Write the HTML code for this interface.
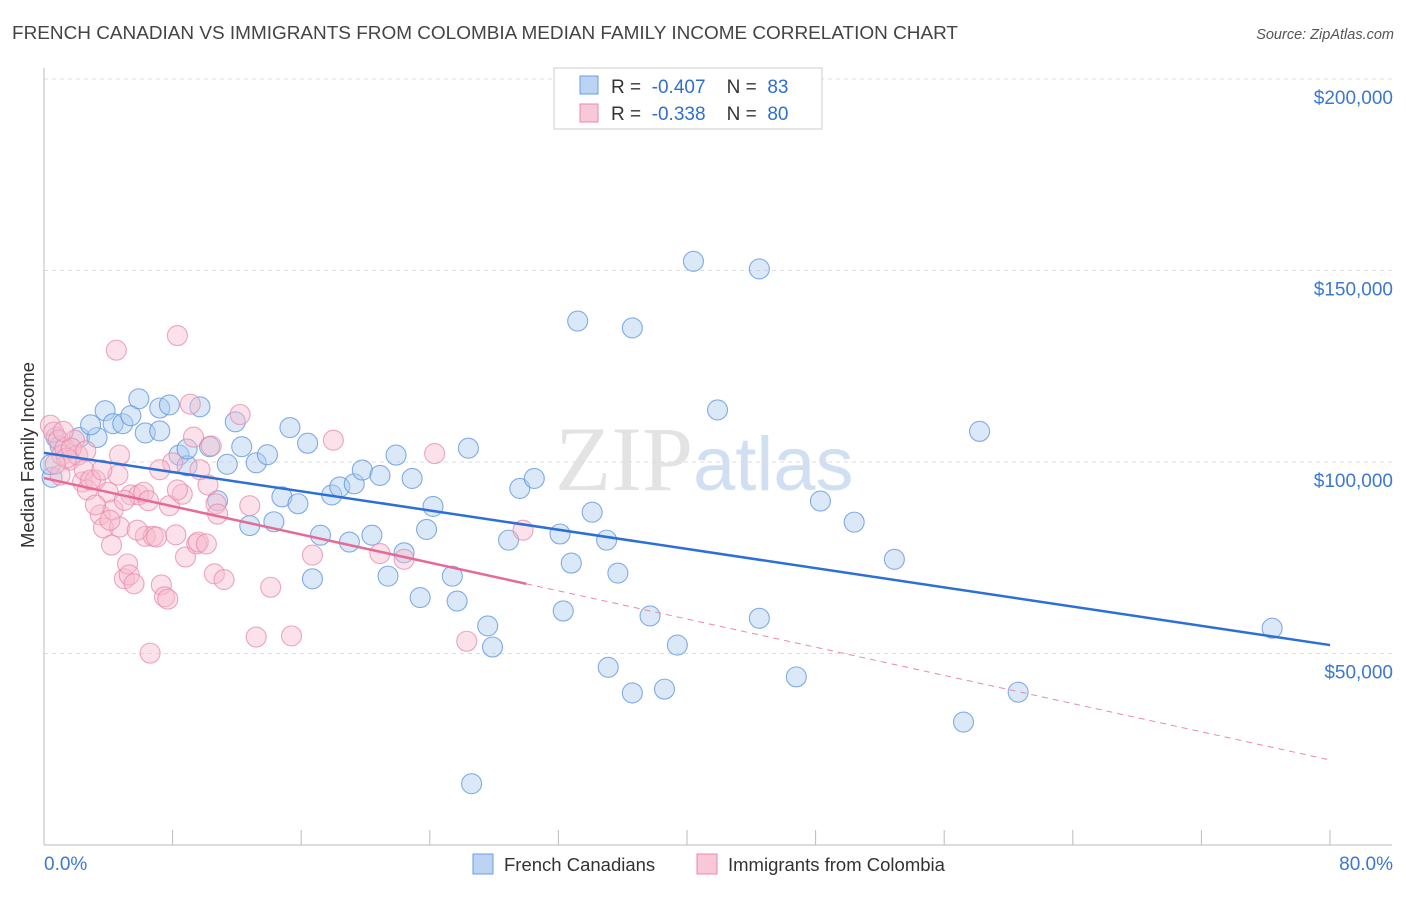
<!DOCTYPE html>
<html><head><meta charset="utf-8"><style>
body{margin:0;background:#fff;font-family:"Liberation Sans",sans-serif}
</style></head><body>
<svg id="chart" width="1406" height="892" xmlns="http://www.w3.org/2000/svg" style="font-family:'Liberation Sans',sans-serif">
<text x="12" y="39" font-size="18" fill="#444" textLength="946" lengthAdjust="spacingAndGlyphs">FRENCH CANADIAN VS IMMIGRANTS FROM COLOMBIA MEDIAN FAMILY INCOME CORRELATION CHART</text>
<text x="1394" y="39" font-size="14.5" fill="#555" text-anchor="end" font-style="italic">Source: ZipAtlas.com</text>
<text x="555" y="490" font-size="92" fill="#ddd" font-family="Liberation Serif,serif" opacity="0.8">ZIP<tspan fill="#c5d8ef" font-family="Liberation Sans,sans-serif" font-size="76">atlas</tspan></text>
<g id="grid"></g><g id="marks"></g>
<text transform="translate(34,455) rotate(-90)" font-size="18.5" fill="#333" text-anchor="middle">Median Family Income</text>
<g>
<rect x="554" y="68" width="268" height="61" fill="#fff" stroke="#ccc"/>
<rect x="580" y="76" width="18" height="18" fill="#bcd4f4" stroke="#6b9be0"/>
<text x="611" y="93" font-size="19" fill="#333" xml:space="preserve">R =  <tspan fill="#2f6fd0">-0.407</tspan>    N =  <tspan fill="#2f6fd0">83</tspan></text>
<rect x="580" y="104" width="18" height="18" fill="#f9c8d7" stroke="#e88aa8"/>
<text x="611" y="120" font-size="19" fill="#333" xml:space="preserve">R =  <tspan fill="#2f6fd0">-0.338</tspan>    N =  <tspan fill="#2f6fd0">80</tspan></text>
</g>
<g>
<rect x="473" y="854" width="20" height="20" fill="#bcd4f4" stroke="#6b9be0"/>
<text x="504" y="871" font-size="18.5" fill="#333">French Canadians</text>
<rect x="697" y="854" width="20" height="20" fill="#f9c8d7" stroke="#e88aa8"/>
<text x="728" y="871" font-size="18.5" fill="#333">Immigrants from Colombia</text>
</g>
</svg>
<script>
const yTicks=[50000,100000,150000,200000];
const yTickLabels=["$50,000","$100,000","$150,000","$200,000"];
const xTickLabels=["0.0%","80.0%"];
const blueX=[0.5,0.75,2.2,3.3,3.8,2.9,4.3,4.9,5.4,5.9,6.3,7.2,7.2,7.8,8.4,8.9,9.7,8.9,10.3,10.8,11.4,11.9,12.3,12.8,13.2,13.9,14.3,14.8,15.3,15.8,16.4,16.7,17.2,17.9,18.4,19.0,19.3,19.8,20.4,20.9,21.4,21.9,22.4,22.9,23.4,23.8,24.2,25.4,25.7,26.4,26.6,27.6,27.9,28.9,29.6,30.5,32.1,32.3,32.8,33.2,34.1,35.0,35.1,35.7,36.6,36.6,37.7,38.6,39.4,40.4,41.9,44.5,44.5,46.8,48.3,50.4,52.9,57.2,58.2,60.6,76.4,0.4,1.0];
const blueY=[96.0,106.4,106.4,106.4,113.4,109.7,110.0,110.0,112.1,116.5,107.6,114.1,108.1,114.9,101.8,99.0,114.4,103.4,104.0,89.9,99.4,110.5,104.0,83.4,99.8,101.9,84.4,90.9,109.0,89.1,104.9,69.5,80.9,91.4,93.5,79.1,94.3,97.9,80.9,96.5,70.2,101.8,76.3,95.7,64.6,82.4,88.4,70.2,63.7,103.6,16.0,57.2,51.7,79.6,93.1,95.7,81.2,61.1,73.6,136.8,86.9,79.6,46.4,71.0,39.7,135.0,59.8,40.7,52.2,152.4,113.6,150.4,59.2,43.9,89.8,84.3,74.6,32.1,108.0,39.9,56.6,99.3,104.2];
const pinkX=[0.4,0.6,0.9,1.1,1.3,1.6,1.9,2.1,2.4,2.5,2.7,3.2,3.5,3.7,4.0,4.2,4.3,4.5,4.6,4.7,5.0,5.2,5.3,5.4,5.6,5.9,6.2,6.3,6.5,6.6,6.8,7.0,7.3,7.5,7.7,7.8,8.0,8.2,8.3,8.6,8.8,9.1,9.3,9.5,9.6,10.1,10.2,10.4,10.6,10.7,10.8,11.2,12.2,12.8,13.2,14.1,15.4,16.7,18.0,20.9,22.4,24.3,26.3,29.8,1.0,1.4,1.7,2.9,3.2,3.6,4.1,5.0,5.8,7.2,8.3,9.7,4.7,2.6,0.7,1.2];
const pinkY=[109.6,107.8,105.7,101.8,103.6,100.5,105.7,101.8,94.8,97.9,92.7,95.3,86.2,82.8,92.1,78.3,87.5,129.2,96.6,83.0,69.5,73.4,70.5,91.4,68.2,91.4,92.1,80.6,89.9,50.1,80.6,80.4,67.9,64.8,64.2,88.6,99.8,81.0,133.0,91.6,75.2,115.1,106.5,78.6,79.1,78.6,94.0,104.2,70.8,89.1,86.4,69.3,112.4,88.6,54.3,67.3,54.6,75.7,105.7,76.1,74.6,102.2,53.2,82.2,96.6,101.0,103.6,95.3,88.8,97.9,84.8,90.0,82.2,98.0,92.7,98.0,101.8,102.9,99.5,108.0];
const lineIntercept=[102.4,95.8];
const lineEnd=[52.2,22.2];
const NS="http://www.w3.org/2000/svg";
const sx=v=>44+v/80*1286, sy=k=>845-k/200*766;
function mk(t,a,p){const e=document.createElementNS(NS,t);for(const k in a)e.setAttribute(k,a[k]);p.appendChild(e);return e;}
const grid=document.getElementById('grid'),marks=document.getElementById('marks');
yTicks.forEach((t,i)=>{const y=sy(t/1000);
const g=mk('line',{x1:44,x2:1392,y1:y,y2:y,stroke:'#ddd','stroke-dasharray':'4,4'},grid);


const l=mk('text',{x:1393,y:y+25,'font-size':19,fill:'#3b78d0','text-anchor':'end'},grid);l.textContent=yTickLabels[i];

});
const ax=mk('line',{x1:44,x2:44,y1:68,y2:845,stroke:'#bbb'},grid);


const bx=mk('line',{x1:44,x2:1392,y1:845,y2:845,stroke:'#bbb'},grid);


for(let i=0;i<=10;i++){const x=sx(i*8);const t=mk('line',{x1:x,x2:x,y1:830,y2:845,stroke:'#bbb'},grid);

}
[[44,'start',0],[1393,'end',1]].forEach(([x,a,i])=>{const l=mk('text',{x:x,y:870,'font-size':19,fill:'#3b78d0','text-anchor':a},grid);l.textContent=xTickLabels[i];

});
function pts(X,Y,fill,stroke,name){X.forEach((x,i)=>{const c=mk('circle',{cx:sx(x),cy:sy(Y[i]),r:10,fill:fill,'fill-opacity':0.45,stroke:stroke,'stroke-opacity':0.75,'stroke-width':1.1},marks);

});}
pts(blueX,blueY,'#aecbf0','#5b93dc','french-canadian-point');
pts(pinkX,pinkY,'#f7bccf','#e88aa8','colombia-point');
const at=(i,x)=>lineIntercept[i]+(lineEnd[i]-lineIntercept[i])*x/80;
const b=mk('line',{x1:sx(0),y1:sy(at(0,0)),x2:sx(80),y2:sy(at(0,80)),stroke:'#2c6fd6','stroke-width':2.5},marks);


const p=mk('line',{x1:sx(0),y1:sy(at(1,0)),x2:sx(30),y2:sy(at(1,30)),stroke:'#e56a94','stroke-width':2.5},marks);


const pd=mk('line',{x1:sx(30),y1:sy(at(1,30)),x2:sx(80),y2:sy(at(1,80)),stroke:'#e88aa8','stroke-width':1,'stroke-dasharray':'6,5'},marks);


</script>
</body></html>
